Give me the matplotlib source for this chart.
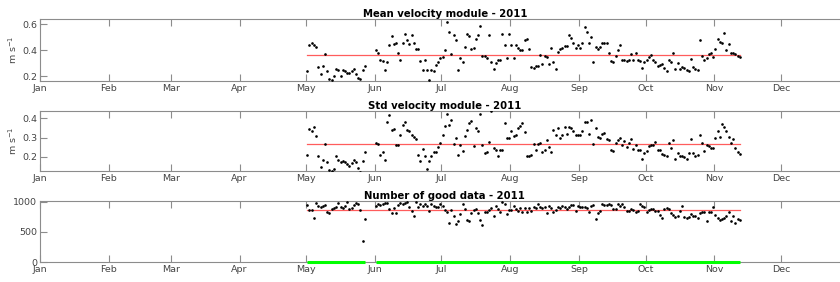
import numpy as np
import pandas as pd
import matplotlib
matplotlib.use("Agg")
import matplotlib.pyplot as plt
import matplotlib.dates as mdates

nan = np.nan

# daily values from 2011-05-01 to 2011-11-12, NaN = no data
mean_vel = [
    # May
    0.24, 0.44, 0.46, 0.44, 0.43, 0.27, 0.22, 0.28, 0.37, 0.24,
    0.18, 0.17, 0.20, 0.26, 0.25, 0.20, 0.25, 0.24, 0.23, 0.23,
    0.24, 0.26, 0.22, 0.19, 0.18, 0.25, 0.28, nan, nan, nan, nan,
    # Jun
    0.40, 0.38, 0.33, 0.32, 0.25, 0.31, 0.44, 0.51, 0.45, 0.46,
    0.38, 0.33, 0.46, 0.53, 0.48, 0.45, 0.52, 0.46, 0.41, 0.41,
    0.32, 0.25, 0.33, 0.25, 0.17, 0.25, 0.24, 0.29, 0.31, 0.34,
    # Jul
    0.35, 0.40, 0.62, 0.54, 0.37, 0.52, 0.48, 0.25, 0.34, 0.31,
    0.43, 0.53, 0.51, 0.41, 0.42, 0.49, 0.52, 0.59, 0.36, 0.36,
    0.34, 0.52, 0.31, 0.26, 0.30, 0.33, 0.33, 0.53, 0.44, 0.34, 0.53,
    # Aug
    0.44, 0.345, 0.44, 0.42, 0.40, 0.40, 0.48, 0.49, 0.41, 0.27,
    0.264, 0.277, 0.277, 0.366, 0.297, 0.358, 0.348, 0.297, 0.417, 0.312,
    0.259, 0.386, 0.41, 0.417, 0.437, 0.435, 0.519, 0.493, 0.455, 0.422, 0.44,
    # Sep
    0.422, 0.46, 0.577, 0.544, 0.455, 0.50, 0.315, 0.43, 0.41, 0.43,
    0.46, 0.46, 0.46, 0.384, 0.32, 0.31, 0.358, 0.404, 0.44, 0.328,
    0.328, 0.32, 0.323, 0.374, 0.325, 0.379, 0.328, 0.318, 0.264, 0.31,
    # Oct
    0.328, 0.348, 0.366, 0.323, 0.315, 0.284, 0.29, 0.297, 0.264, 0.239,
    0.325, 0.31, 0.379, 0.259, 0.307, 0.259, 0.269, 0.267, 0.246, 0.244,
    0.338, 0.269, 0.256, 0.251, 0.48, 0.358, 0.323, 0.34, 0.371, 0.379, 0.353,
    # Nov
    0.412, 0.485, 0.468, 0.455, 0.536, 0.404, 0.45, 0.379, 0.384, 0.374,
    0.36, 0.353,
]

std_vel = [
    # May
    0.208, 0.344, 0.336, 0.353, 0.31, 0.203, 0.148, 0.182, 0.264, 0.17,
    0.131, 0.127, 0.136, 0.203, 0.182, 0.173, 0.177, 0.17, 0.16, 0.151,
    0.165, 0.182, 0.17, 0.143, 0.122, 0.177, 0.225, nan, nan, nan, nan,
    # Jun
    0.273, 0.268, 0.211, 0.225, 0.18, 0.379, 0.418, 0.341, 0.344, 0.259,
    0.262, 0.315, 0.367, 0.379, 0.341, 0.336, 0.315, 0.302, 0.293, 0.208,
    0.177, 0.242, 0.201, 0.136, 0.177, 0.203, 0.225, 0.225, 0.25, 0.273,
    # Jul
    0.315, 0.358, 0.421, 0.365, 0.39, 0.264, 0.298, 0.211, 0.259, 0.23,
    0.307, 0.341, 0.375, 0.384, 0.256, 0.348, 0.332, 0.421, 0.259, 0.221,
    0.225, 0.279, 0.438, 0.245, 0.237, 0.203, 0.233, 0.233, 0.375, 0.298, 0.297,
    # Aug
    0.336, 0.31, 0.314, 0.35, 0.362, 0.375, 0.327, 0.203, 0.203, 0.208,
    0.268, 0.233, 0.268, 0.271, 0.225, 0.233, 0.285, 0.25, 0.225, 0.341,
    0.315, 0.35, 0.297, 0.315, 0.353, 0.319, 0.353, 0.348, 0.336, 0.314, 0.314,
    # Sep
    0.315, 0.336, 0.379, 0.382, 0.319, 0.392, 0.268, 0.35, 0.302, 0.298,
    0.319, 0.322, 0.29, 0.288, 0.233, 0.23, 0.273, 0.288, 0.298, 0.259,
    0.281, 0.25, 0.273, 0.293, 0.238, 0.259, 0.237, 0.237, 0.187, 0.221,
    # Oct
    0.23, 0.254, 0.259, 0.259, 0.276, 0.233, 0.237, 0.216, 0.211, 0.204,
    0.273, 0.245, 0.288, 0.187, 0.221, 0.203, 0.204, 0.199, 0.187, 0.219,
    0.293, 0.219, 0.204, 0.208, 0.315, 0.273, 0.228, 0.259, 0.254, 0.247, 0.247,
    # Nov
    0.298, 0.336, 0.302, 0.373, 0.353, 0.336, 0.305, 0.273, 0.29, 0.247,
    0.225, 0.216,
]

n_good = [
    # May
    944, 861, 861, 722, 972, 933, 917, 933, 944, 833,
    817, 872, 889, 917, 972, 917, 900, 933, 989, 878,
    900, 944, 972, 956, 861, 350, 706, nan, nan, nan, nan,
    # Jun
    928, 961, 944, 961, 972, 972, 872, 806, 900, 806,
    944, 972, 956, 972, 1000, 917, 850, 767, 990, 917,
    956, 928, 961, 933, 850, 956, 933, 917, 917, 961,
    # Jul
    933, 861, 822, 650, 861, 767, 622, 683, 794, 961,
    872, 694, 678, 806, 861, 872, 806, 694, 611, 822,
    833, 861, 889, 761, 928, 872, 822, 989, 961, 794, 861,
    # Aug
    861, 928, 872, 850, 889, 822, 889, 833, 889, 850,
    917, 889, 961, 917, 889, 906, 806, 928, 889, 833,
    861, 906, 889, 928, 917, 872, 917, 944, 944, 850, 928,
    # Sep
    906, 906, 906, 889, 833, 928, 944, 711, 806, 850,
    961, 944, 944, 956, 944, 872, 872, 961, 928, 961,
    906, 850, 850, 872, 861, 822, 850, 961, 928, 917,
    # Oct
    833, 861, 878, 872, 850, 850, 778, 722, 872, 889,
    878, 806, 778, 750, 767, 844, 928, 750, 722, 739,
    789, 767, 767, 722, 806, 833, 822, 678, 822, 822, 906,
    # Nov
    778, 722, 694, 706, 733, 761, 822, 683, 761, 650,
    706, 694,
]

days = pd.date_range("2011-05-01 12:00", periods=len(mean_vel), freq="D")
mean_vel = np.array(mean_vel)
std_vel = np.array(std_vel)
n_good = np.array(n_good, dtype=float)
n_bad = np.where(np.isnan(n_good), nan, 0.0)
months = pd.date_range("2011-01-01", "2011-12-01", freq="MS")

panels = [
    ("Mean velocity module - 2011", mean_vel, (0.165, 0.64), [0.2, 0.4, 0.6], True),
    ("Std velocity module - 2011", std_vel, (0.125, 0.44), [0.2, 0.3, 0.4], True),
    ("Number of good data - 2011", n_good, (0, 1010), [0, 500, 1000], False),
]
# axes boxes in figure fractions: left, bottom, width, height
boxes = [
    [0.0476, 0.7128, 0.9638, 0.2188],
    [0.0476, 0.3936, 0.9638, 0.2138],
    [0.0476, 0.0709, 0.9638, 0.2163],
]

grey = "#8c8c8c"
fig = plt.figure(figsize=(8.4, 2.82), dpi=100)

for (title, vals, ylim, yt, has_label), box in zip(panels, boxes):
    ax = fig.add_axes(box)
    if title.startswith("Number"):
        # zero line of missing counts, drawn over the bottom axis
        ax.plot(days, n_bad, "-", color="#00ff00", lw=2.2, clip_on=False,
                solid_capstyle="butt", zorder=4)
    ax.plot(days, vals, ".", color="black", markersize=1.8, zorder=3)
    ok = ~np.isnan(vals)
    avg = np.nanmean(vals)
    ax.plot([days[ok][0], days[ok][-1]], [avg, avg], color="#ff5c5c", lw=0.9,
            zorder=2)
    ax.set_xlim(pd.Timestamp("2011-01-01"), pd.Timestamp("2012-01-01"))
    ax.set_ylim(*ylim)
    ax.set_yticks(yt)
    ax.set_xticks(months)
    ax.xaxis.set_major_formatter(mdates.DateFormatter("%b"))
    ax.tick_params(axis="x", direction="in", top=True, length=5, width=0.8,
                   color=grey, labelsize=6.8, labelcolor="#444444", pad=2)
    ax.tick_params(axis="y", direction="in", length=5, width=0.8,
                   color=grey, labelsize=6.8, labelcolor="#444444", pad=2)
    for s in ax.spines.values():
        s.set_color(grey)
        s.set_linewidth(0.8)
    ax.set_title(title, fontsize=7.3, fontweight="bold", pad=1.5)
    if has_label:
        ax.set_ylabel("m s$^{-1}$", fontsize=6.8, color="#444444", labelpad=2)

fig.savefig("out.png", dpi=100)
